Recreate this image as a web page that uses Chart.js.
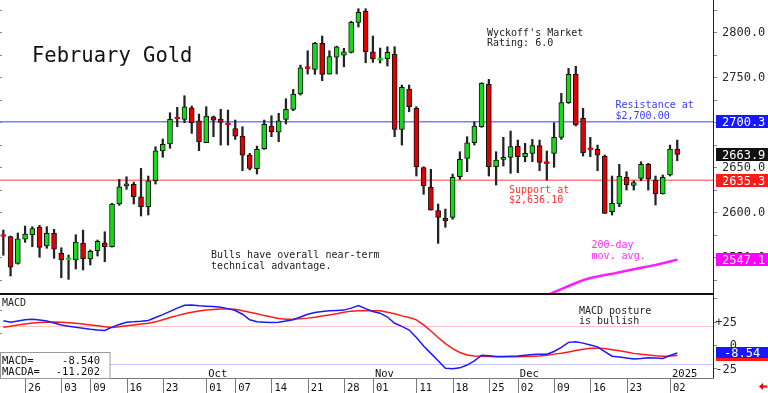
<!DOCTYPE html>
<html><head><meta charset="utf-8">
<script src="https://cdn.jsdelivr.net/npm/chart.js@4.4.1/dist/chart.umd.min.js"></script>
<style>
html,body{margin:0;padding:0;background:#fff;overflow:hidden;}
#wrap{position:relative;width:768px;height:393px;background:#fff;}
canvas{position:absolute;left:0;}
#c1{top:0;} #c2{top:295px;}
</style></head><body>
<div id="wrap"><canvas id="c1" width="768" height="295"></canvas><canvas id="c2" width="768" height="98"></canvas></div>
<script>
// ---- data ----
const opens  = [2573.3,2572.6,2543.0,2569.7,2574.8,2583.0,2562.2,2576.3,2554.1,2547.0,
 2546.7,2565.2,2547.8,2557.0,2565.9,2561.4,2608.9,2628.9,2630.7,2617.0,
 2605.9,2634.8,2667.8,2675.6,2704.2,2703.0,2715.9,2701.4,2677.0,2705.9,
 2703.3,2698.0,2692.6,2684.4,2663.3,2648.1,2670.4,2695.6,2688.6,2703.0,
 2714.1,2731.1,2760.2,2758.5,2787.4,2753.3,2772.2,2774.4,2777.4,2810.7,
 2823.3,2778.1,2768.8,2770.4,2775.2,2691.9,2736.7,2715.2,2649.3,2627.4,
 2601.5,2593.0,2594.1,2639.2,2659.6,2677.0,2694.8,2741.9,2650.3,2658.5,
 2660.8,2673.3,2661.5,2665.2,2673.7,2654.4,2665.2,2683.0,2721.5,2753.3,
 2704.1,2670.0,2669.6,2662.2,2600.3,2608.9,2638.5,2629.6,2637.4,2653.0,
 2635.6,2620.0,2641.1,2670.0];
const highs  = [2580.0,2573.3,2576.7,2584.4,2583.7,2585.2,2583.7,2580.8,2560.3,2552.2,
 2574.8,2580.0,2557.8,2568.9,2578.1,2609.7,2636.3,2639.2,2633.3,2648.5,
 2640.0,2672.6,2681.1,2710.3,2716.3,2729.2,2717.8,2708.9,2717.0,2706.7,
 2714.1,2713.3,2702.2,2694.8,2665.2,2673.3,2702.2,2707.0,2709.7,2725.9,
 2736.3,2763.3,2779.2,2788.5,2795.6,2779.2,2784.4,2781.9,2812.0,2825.9,
 2825.9,2795.6,2782.2,2783.7,2783.7,2741.1,2741.1,2717.0,2650.3,2647.4,
 2608.9,2603.3,2642.2,2667.0,2683.7,2700.3,2743.7,2747.4,2667.0,2683.0,
 2690.0,2680.0,2676.3,2680.7,2680.0,2667.8,2699.2,2731.9,2759.6,2761.9,
 2715.2,2683.0,2674.4,2663.3,2640.0,2653.0,2644.8,2634.8,2655.9,2654.1,
 2640.0,2641.1,2674.4,2680.0];
const lows   = [2552.0,2528.9,2542.0,2566.3,2561.4,2549.7,2559.7,2548.6,2527.0,2525.2,
 2536.7,2535.6,2541.1,2551.1,2544.8,2561.0,2607.4,2625.2,2608.9,2595.6,
 2596.7,2631.1,2660.8,2670.8,2694.8,2699.2,2687.4,2668.1,2677.0,2683.7,
 2674.4,2674.4,2680.7,2645.9,2646.7,2642.2,2669.6,2683.7,2678.1,2697.8,
 2712.6,2730.0,2753.3,2753.0,2745.9,2753.3,2753.3,2761.4,2776.7,2805.6,
 2765.9,2766.3,2765.6,2762.2,2683.7,2674.4,2711.4,2640.0,2619.7,2602.2,
 2565.2,2583.0,2591.9,2636.3,2644.8,2674.4,2694.1,2640.0,2630.0,2651.1,
 2643.0,2643.7,2655.9,2655.9,2645.9,2635.6,2649.7,2680.7,2720.7,2695.6,
 2662.2,2661.5,2645.9,2598.5,2596.7,2605.9,2624.4,2624.4,2634.8,2624.4,
 2607.8,2620.0,2640.0,2657.0];
const closes = [2572.8,2538.6,2570.3,2575.6,2581.5,2560.8,2576.3,2558.6,2546.7,2547.6,
 2566.7,2548.1,2556.3,2567.4,2561.4,2608.9,2628.1,2631.4,2617.0,2605.9,
 2634.8,2668.1,2675.2,2703.0,2703.4,2717.0,2699.2,2678.1,2706.7,2702.2,
 2699.6,2697.0,2684.4,2663.3,2648.5,2669.6,2697.4,2689.2,2701.4,2714.1,
 2731.1,2760.3,2759.4,2787.4,2753.0,2772.6,2783.7,2778.1,2810.7,2821.9,
 2778.1,2770.0,2769.4,2777.4,2691.9,2738.5,2717.0,2650.3,2628.9,2602.2,
 2594.1,2590.0,2638.5,2658.5,2677.0,2695.6,2743.0,2650.3,2657.8,2660.7,
 2672.6,2661.5,2665.2,2673.7,2655.2,2653.8,2683.0,2721.5,2753.0,2696.7,
 2665.9,2669.2,2663.3,2598.5,2609.7,2640.0,2630.0,2632.6,2653.0,2636.7,
 2620.0,2638.5,2670.0,2663.9];
const ma200StartIdx = 74;
const ma200 = [2503.0,2507.5,2511.1,2514.4,2517.8,2521.1,2524.4,2526.7,2528.3,2530.0,
 2531.3,2533.0,2534.8,2536.4,2538.0,2539.6,2541.2,2543.0,2545.1,2547.1];
const macdLine = [26,24.5,25.8,27,27.6,26.8,25.8,23.5,21.5,20.2,
 19,17.9,16.8,16,15.5,19.2,22,24.4,24.8,25.4,
 26.3,29.5,32.5,36,39.5,42.5,43,42,41.6,41.3,
 40.5,39,37,33,27,25,24.5,24.1,24.5,25.8,
 27,30,33,34.8,35.8,36.6,37,37.4,39.5,42.3,
 39,36,34.1,30,23.3,20,16,8,-1,-9,
 -17,-25,-25.5,-24.5,-21.5,-17,-11,-11.5,-12.3,-12.3,
 -12,-11.8,-11,-10.2,-10,-10,-7,-2.5,2.8,3.5,
 2,0,-2,-7,-12,-13,-14,-15,-14.5,-13.6,
 -14,-14.5,-11.3,-8.54];
const macdAvg = [19,20,21.5,22.6,23.5,24.2,24.5,24.7,24.3,23.8,
 23.3,22.5,21.5,20.5,19.5,18.8,19.5,20.5,21.5,22.5,
 23.2,24.8,27,29.5,31.5,33.5,35.2,36.5,37.5,38,
 38.5,38.7,38.2,36.8,35,33.5,31.5,30,28.5,27.6,
 27.8,28.2,28.8,29.8,31,32.2,33.5,35,36.3,36.6,
 36.9,36.8,36.6,35,33.5,31.2,29.5,27,21.5,15,
 8,1.5,-4,-8,-10.8,-11.8,-12.2,-12.4,-12.5,-12.5,
 -12.5,-12.5,-12.3,-12.1,-11.9,-11,-9.8,-8.9,-7.5,-5.8,
 -4.5,-3.6,-3.5,-3.8,-5,-6.2,-7.5,-9,-10,-10.7,
 -11.5,-12,-11.8,-11.2];
const dayTickIdx    = [3,8,12,17,22,28,32,37,42,47,51,57,62,67,71,76,81,86,92];
const dayTickLabels = ['26','03','09','16','23','01','07','14','21','28','01','11','18','25','02','09','16','23','02'];
const monthTickIdx  = [28,51,71,92];
const monthLabels   = ['Oct','Nov','Dec','2025'];
const priceTicks    = [2550,2600,2650,2700,2750,2800];
const macdTicks     = [25,0,-25];
const macdTickLabels= ['+25','0','-25'];
const resistanceLevel = 2700.3;
const supportLevel    = 2635.3;
const macdValue  = -8.540;
const macdaValue = -11.202;

// ---- styling ----
const FONT = "'DejaVu Sans Mono', monospace";
const GREEN = '#14dc14', RED = '#e00000';
const X_MIN = -0.46, X_MAX = 98.07;

function txt(ctx, s, x, y, color, size, align) {
  ctx.save();
  ctx.font = size + 'px ' + FONT;
  ctx.fillStyle = color;
  ctx.textAlign = align || 'left';
  ctx.textBaseline = 'alphabetic';
  ctx.fillText(s, x, y);
  ctx.restore();
}
function valueBox(ctx, yy, h, bg, label, fg, size, tx) {
  ctx.save();
  ctx.fillStyle = bg;
  ctx.fillRect(716, Math.round(yy - h / 2), 52, h);
  ctx.restore();
  if (label) txt(ctx, label, tx || 722, yy + 4.3, fg, size || 12);
}

const bodyColors  = closes.map((c, i) => c >= opens[i] ? GREEN : RED);
const bodyBorders = closes.map((c, i) => Math.abs(c - opens[i]) < 1.2 ? bodyColors[i] : '#111');

const pricePlugin = {
  id: 'pricePlugin',
  beforeDatasetsDraw(chart) {
    const {ctx, chartArea: a, scales: {y}} = chart;
    ctx.save();
    ctx.lineWidth = 1.5;
    ctx.strokeStyle = '#7d7dff';
    let yy = y.getPixelForValue(resistanceLevel);
    ctx.beginPath(); ctx.moveTo(a.left, yy); ctx.lineTo(a.right, yy); ctx.stroke();
    ctx.strokeStyle = '#ff7d7d';
    yy = y.getPixelForValue(supportLevel);
    ctx.beginPath(); ctx.moveTo(a.left, yy); ctx.lineTo(a.right, yy); ctx.stroke();
    ctx.restore();
  },
  afterDraw(chart) {
    const {ctx, chartArea: a, scales: {y}} = chart;
    ctx.save();
    ctx.fillStyle = '#222';
    ctx.fillRect(Math.round(a.right) - 1, 0, 1, 295);
    ctx.fillStyle = '#111';
    ctx.fillRect(0, 293, Math.round(a.right), 2);
    ctx.fillStyle = '#888';
    for (let v = 2525; v <= 2825; v += 25) {
      const yy = Math.round(y.getPixelForValue(v));
      ctx.fillRect(a.right, yy, 3, 1);
      ctx.fillRect(0, yy, 2, 1);
    }
    ctx.restore();
    priceTicks.forEach(v => txt(ctx, v.toFixed(1), 722, y.getPixelForValue(v) + 4.3, '#2a2a2a', 12));
    valueBox(ctx, y.getPixelForValue(resistanceLevel), 13, '#1818ff', resistanceLevel.toFixed(1), '#fff');
    const last = closes[closes.length - 1];
    valueBox(ctx, y.getPixelForValue(last), 13, '#111', last.toFixed(1), '#fff');
    valueBox(ctx, y.getPixelForValue(supportLevel), 13, '#ff1a1a', supportLevel.toFixed(1), '#fff');
    const lastMA = ma200[ma200.length - 1];
    valueBox(ctx, y.getPixelForValue(lastMA), 13, '#ff00ff', lastMA.toFixed(1), '#fff');
    txt(ctx, 'February Gold', 32, 62, '#111', 20.5);
    txt(ctx, "Wyckoff's Market", 487, 35.5, '#222', 10);
    txt(ctx, 'Rating: 6.0', 487, 46, '#222', 10);
    txt(ctx, 'Resistance at', 615.5, 108, '#3a3aff', 10);
    txt(ctx, '$2,700.00', 615.5, 118.5, '#3a3aff', 10);
    txt(ctx, 'Support at', 509, 193, '#ff3333', 10);
    txt(ctx, '$2,636.10', 509, 203, '#ff3333', 10);
    txt(ctx, 'Bulls have overall near-term', 211, 258, '#222', 10);
    txt(ctx, 'technical advantage.', 211, 268.5, '#222', 10);
    txt(ctx, '200-day', 591.5, 248, '#ff2cff', 10);
    txt(ctx, 'mov. avg.', 591.5, 258.5, '#ff2cff', 10);
  }
};

new Chart(document.getElementById('c1'), {
  type: 'bar',
  data: { datasets: [
    { type: 'line', data: ma200.map((v, i) => ({x: ma200StartIdx + i, y: v})),
      borderColor: '#ff1eff', borderWidth: 2.5, pointRadius: 0, tension: 0 },
    { type: 'bar', data: opens.map((o, i) => ({x: i, y: [o, closes[i]]})),
      backgroundColor: bodyColors, borderColor: bodyBorders, borderWidth: 1,
      borderSkipped: false, barThickness: 5, minBarLength: 2, grouped: false },
    { type: 'bar', data: lows.map((l, i) => ({x: i, y: [l, highs[i]]})),
      backgroundColor: '#222', borderWidth: 0, barThickness: 1.6, grouped: false }
  ]},
  options: {
    responsive: false, animation: false, devicePixelRatio: 1,
    layout: {padding: 0},
    plugins: {legend: {display: false}, tooltip: {enabled: false}},
    scales: {
      x: {type: 'linear', min: X_MIN, max: X_MAX, display: false, offset: false},
      y: {position: 'right', min: 2507.8, max: 2835.6,
          ticks: {display: false}, grid: {display: false}, border: {display: false},
          afterFit: s => { s.width = 54; }}
    }
  },
  plugins: [pricePlugin]
});

const macdPlugin = {
  id: 'macdPlugin',
  beforeDatasetsDraw(chart) {
    const {ctx, chartArea: a, scales: {y}} = chart;
    ctx.save();
    ctx.lineWidth = 1;
    ctx.strokeStyle = '#ffc4c4';
    let yy = Math.round(y.getPixelForValue(20)) + 0.5;
    ctx.beginPath(); ctx.moveTo(0, yy); ctx.lineTo(a.right, yy); ctx.stroke();
    ctx.strokeStyle = '#c4c4ff';
    yy = Math.round(y.getPixelForValue(-20)) + 0.5;
    ctx.beginPath(); ctx.moveTo(0, yy); ctx.lineTo(a.right, yy); ctx.stroke();
    ctx.restore();
  },
  afterDraw(chart) {
    const {ctx, chartArea: a, scales: {x, y}} = chart;
    const R = Math.round(a.right);
    ctx.save();
    ctx.fillStyle = '#222';
    ctx.fillRect(R - 1, 0, 1, 83);
    ctx.fillStyle = '#888';
    [-25, 0, 25, 50].forEach(v => ctx.fillRect(R, Math.round(y.getPixelForValue(v)), 3, 1));
    [-12.5, 12.5, 37.5].forEach(v => ctx.fillRect(0, Math.round(y.getPixelForValue(v)), 2, 1));
    ctx.fillStyle = '#7a7a7a';
    ctx.fillRect(0, 83, R, 1);
    dayTickIdx.forEach(i => ctx.fillRect(Math.round(x.getPixelForValue(i)), 83, 1, 15));
    ctx.fillStyle = '#fff';
    ctx.fillRect(0, 57, 110, 26);
    ctx.strokeStyle = '#999';
    ctx.lineWidth = 1;
    ctx.strokeRect(0.5, 57.5, 109.5, 26);
    ctx.restore();

    dayTickIdx.forEach((i, k) => txt(ctx, dayTickLabels[k], x.getPixelForValue(i) + 3, 95.5, '#111', 10.5));
    monthTickIdx.forEach((i, k) => txt(ctx, monthLabels[k], x.getPixelForValue(i) + 2, 82, '#111', 10.5));
    txt(ctx, 'MACD', 2, 10.5, '#222', 10);
    txt(ctx, 'MACD=', 2, 68.5, '#111', 10.5);
    txt(ctx, macdValue.toFixed(3), 100, 68.5, '#111', 10.5, 'right');
    txt(ctx, 'MACDA=', 2, 80, '#111', 10.5);
    txt(ctx, macdaValue.toFixed(3), 100, 80, '#111', 10.5, 'right');
    txt(ctx, 'MACD posture', 579, 18.7, '#222', 10);
    txt(ctx, 'is bullish', 579, 28.7, '#222', 10);
    macdTicks.forEach((v, k) => txt(ctx, macdTickLabels[k], 737, y.getPixelForValue(v) + 4.3, '#2a2a2a', 12, 'right'));
    valueBox(ctx, y.getPixelForValue(macdaValue), 11, '#ff1a1a', null);
    valueBox(ctx, y.getPixelForValue(macdValue), 11, '#1818ff', macdValue.toFixed(2), '#fff', 12, 724);
    ctx.save();
    ctx.fillStyle = '#ee0000';
    ctx.beginPath();
    ctx.moveTo(759, 91.5); ctx.lineTo(763, 88); ctx.lineTo(763, 90.5); ctx.lineTo(767, 90.5);
    ctx.lineTo(767, 92.5); ctx.lineTo(763, 92.5); ctx.lineTo(763, 95); ctx.closePath();
    ctx.fill();
    ctx.restore();
  }
};

new Chart(document.getElementById('c2'), {
  type: 'line',
  data: { datasets: [
    { data: macdLine.map((v, i) => ({x: i, y: v})), borderColor: '#1a1aff', borderWidth: 1.5, pointRadius: 0, tension: 0 },
    { data: macdAvg.map((v, i) => ({x: i, y: v})), borderColor: '#ff1a1a', borderWidth: 1.5, pointRadius: 0, tension: 0 }
  ]},
  options: {
    responsive: false, animation: false, devicePixelRatio: 1,
    layout: {padding: {left: 0, right: 0, top: 0, bottom: 15}},
    plugins: {legend: {display: false}, tooltip: {enabled: false}},
    scales: {
      x: {type: 'linear', min: X_MIN, max: X_MAX, display: false, offset: false},
      y: {position: 'right', min: -35.4, max: 53.6,
          ticks: {display: false}, grid: {display: false}, border: {display: false},
          afterFit: s => { s.width = 54; }}
    }
  },
  plugins: [macdPlugin]
});
</script>
</body></html>
